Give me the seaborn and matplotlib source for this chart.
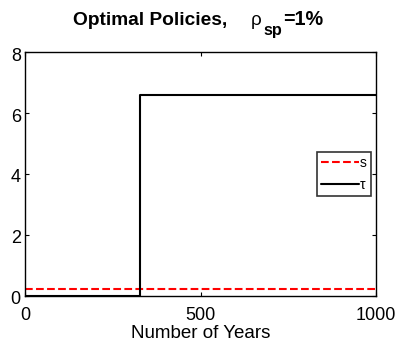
import matplotlib
matplotlib.use("Agg")
import matplotlib.pyplot as plt
import matplotlib.transforms as mtransforms
import seaborn as sns
import pandas as pd

# Data
s_years = [0, 1000]
s_values = [0.22, 0.22]
tau_years = [0, 327, 1000]
tau_values = [0.0, 6.6, 6.6]

x_ticks = [0, 500, 1000]
y_ticks = [0, 2, 4, 6, 8]

sns.set_style("white")
plt.rcParams['font.family'] = ['Liberation Sans', 'DejaVu Sans']
plt.rcParams['text.color'] = 'black'
plt.rcParams['axes.labelcolor'] = 'black'
plt.rcParams['xtick.color'] = 'black'
plt.rcParams['ytick.color'] = 'black'

fig = plt.figure(figsize=(3.97, 3.41), dpi=100)
ax = fig.add_axes([25 / 397, (341 - 295.5) / 341, 351 / 397, (295.5 - 52.3) / 341])

df_s = pd.DataFrame({"year": s_years, "value": s_values})
df_t = pd.DataFrame({"year": tau_years, "value": tau_values})

sns.lineplot(data=df_s, x="year", y="value", ax=ax, color="red", linestyle="--",
             linewidth=1.5, dashes=(4.3, 2.6), estimator=None, label="s")
sns.lineplot(data=df_t, x="year", y="value", ax=ax, color="black", linewidth=1.5,
             drawstyle="steps-post", estimator=None, label="τ")

ax.set_xlim(0, 1000)
ax.set_ylim(0, 8)
ax.set_xticks(x_ticks)
ax.set_yticks(y_ticks)
ax.tick_params(direction="in", length=3, width=0.8, labelsize=13,
               top=True, right=True, bottom=True, left=True)
ax.tick_params(axis="x", pad=8)
ax.tick_params(axis="y", pad=3)
for sp in ax.spines.values():
    sp.set_linewidth(1.0)
    sp.set_color("black")
ax.set_xlabel("Number of Years", fontsize=13.5, labelpad=1)
ax.set_ylabel("")

# shift y tick labels slightly down (MATLAB-like)
offset = mtransforms.ScaledTranslation(0, -2 / 100, fig.dpi_scale_trans)
for lab in ax.get_yticklabels():
    lab.set_transform(lab.get_transform() + offset)

# Title composed in pieces (MATLAB-style subscript)
fig.text(73, 316, "Optimal Policies,", fontsize=13.8, fontweight="bold",
         ha="left", va="baseline", transform=None)
fig.text(251, 316, "ρ", fontsize=13.5, ha="left", va="baseline", transform=None)
fig.text(263, 306, "sp", fontsize=11.7, fontweight="bold",
         ha="left", va="baseline", transform=None)
fig.text(283, 316, "=1%", fontsize=14.2, fontweight="bold",
         ha="left", va="baseline", transform=None)

leg = ax.legend(loc="upper right", bbox_to_anchor=(0.986, 0.592), fontsize=10,
                frameon=True, fancybox=False, handlelength=2.7, handletextpad=0.1,
                borderpad=0.3, labelspacing=0.6, borderaxespad=0, markerfirst=True)
leg.get_frame().set_edgecolor("black")
leg.get_frame().set_linewidth(1.2)

fig.savefig("out.png", dpi=100)
